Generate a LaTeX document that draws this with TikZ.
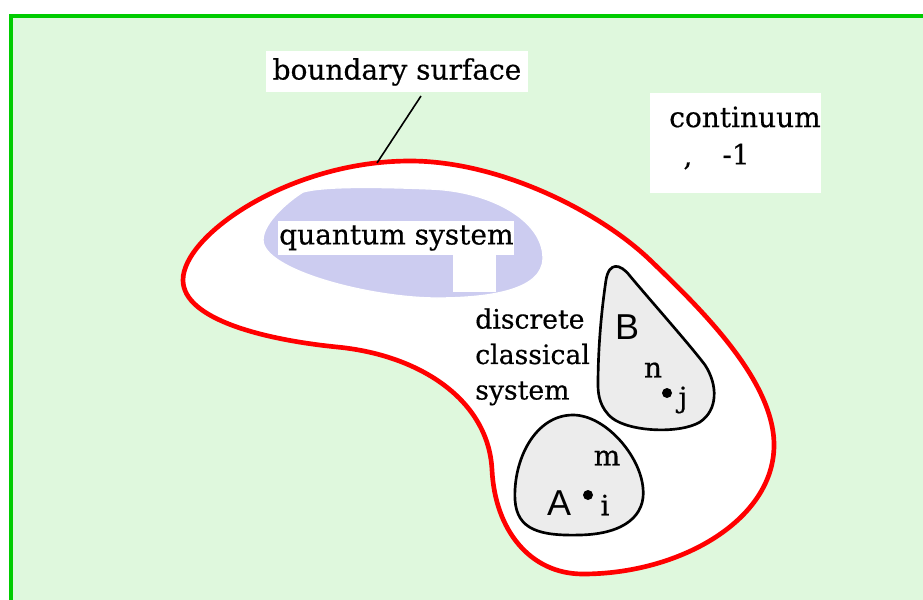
\documentclass[tikz,border=0pt]{standalone}
\usepackage{fontspec}
\setmainfont{DejaVu Serif}[FakeBold=0.5]
\newfontfamily\sansf{Liberation Sans}
\begin{document}
\begin{tikzpicture}[x=0.75pt,y=-0.75pt,
  lbl/.style={font=\fontsize{21}{25}\selectfont, inner sep=0pt},
  sym/.style={font=\sansf\fontsize{27}{30}\selectfont, inner sep=0pt},
  whitebox/.style={fill=white, draw=none},
  blob/.style={black, line width=2pt, fill=blobgray}]
\useasboundingbox (0,0) rectangle (923,599);
\definecolor{bggreen}{RGB}{223,248,221}
\definecolor{edgegreen}{RGB}{0,204,0}
\definecolor{lav}{RGB}{204,204,240}
\definecolor{blobgray}{RGB}{236,236,236}
% background
\draw[edgegreen, line width=2.4pt, fill=bggreen] (11,16) rectangle (940,620);
% red boundary
\draw[red, line width=3.5pt, fill=white]
 (183,280) .. controls (183,235) and (290,161) .. (410,161)
 .. controls (500,161) and (600,212) .. (650,260)
 .. controls (700,308) and (774,380) .. (774,445)
 .. controls (774,520) and (680,574) .. (583,574)
 .. controls (530,574) and (495,530) .. (492,470)
 .. controls (488.5,400) and (420,355) .. (337,347)
 .. controls (267,340) and (183,320) .. (183,280) -- cycle;
% quantum blob
\draw[white, line width=1pt, fill=lav]
 (263,240) .. controls (263,222) and (290,200) .. (303,192)
 .. controls (325,186) and (380,187) .. (430,189)
 .. controls (490,191) and (543,220) .. (543,258)
 .. controls (543,290) and (490,298) .. (437,298)
 .. controls (370,298) and (263,270) .. (263,240) -- cycle;
\fill[white] (278,221) rectangle (514,255);
\fill[white] (453,255) rectangle (496,292);
\node[lbl, anchor=west] (qs) at (279,238) {quantum system};
% boundary label
\node[whitebox, minimum width=196.5pt, minimum height=30.75pt, inner sep=0pt] (bbox) at (397,72) {};
\node[lbl] (bs) at (bbox.center) {boundary surface};
\coordinate (bsend) at (377,163);
\draw[black, line width=1.2pt] (421,96) -- (bsend);
% continuum
\node[whitebox, minimum width=128.25pt, minimum height=75pt, inner sep=0pt] (cbox) at (735.5,143) {};
\node[lbl] (cont) at (745,117) {continuum};
\node[lbl] (comma) at (688,166) {,};
\node[lbl] (mone) at (736,154) {-1};
% discrete classical system
\node[lbl, anchor=north west, align=left, font=\fontsize{20}{26.6}\selectfont] (dcs) at (475,308) {discrete\\classical\\system};
% B blob
\draw[blob]
 (598,385) .. controls (598,340) and (603,300) .. (606,280)
 .. controls (609,262) and (620,263) .. (630,276)
 .. controls (650,300) and (690,345) .. (705,365)
 .. controls (718,385) and (718,410) .. (700,422)
 .. controls (680,434) and (630,432) .. (612,418)
 .. controls (600,408) and (598,395) .. (598,385) -- cycle;
% A blob
\draw[blob]
 (573,415) .. controls (605,415) and (640,455) .. (643,488)
 .. controls (646,515) and (625,534) .. (580,535)
 .. controls (540,536) and (517,530) .. (515,500)
 .. controls (513,460) and (535,415) .. (573,415) -- cycle;
\node[sym] (B) at (627,327) {B};
\node[lbl] (n) at (653,370) {n};
\fill (667,393) circle (5) coordinate (dj);
\node[lbl] (j) at (683,400) {j};
\node[lbl] (m) at (607,458) {m};
\node[sym] (A) at (559,503) {A};
\fill (588,495) circle (5) coordinate (di);
\node[lbl] (i) at (605,505) {i};
\end{tikzpicture}
\end{document}
